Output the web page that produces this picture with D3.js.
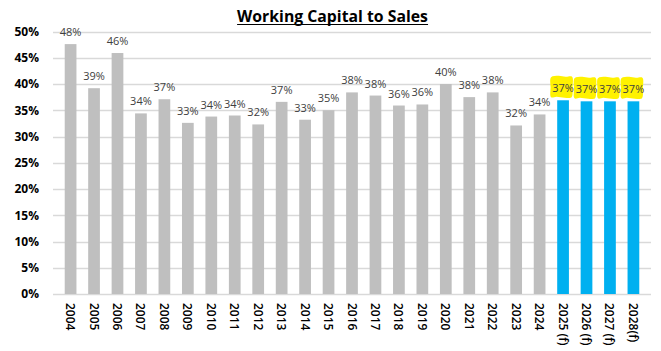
<!DOCTYPE html>
<html>
<head>
<meta charset="utf-8">
<script src="https://cdn.jsdelivr.net/npm/d3@7"></script>
<style>
  body { margin: 0; background: #fff; }
  svg { display: block; }
</style>
</head>
<body>
<div id="chart"></div>
<script>
// Data
const years = ["2004", "2005", "2006", "2007", "2008", "2009", "2010", "2011", "2012", "2013",
    "2014", "2015", "2016", "2017", "2018", "2019", "2020", "2021", "2022", "2023", "2024",
    "2025 (f)", "2026 (f)", "2027 (f)", "2028(f)"];
const ratios = [47.6, 39.2, 45.9, 34.4, 37.1, 32.6, 33.8, 34.0, 32.3, 36.6,
    33.2, 35.0, 38.4, 37.8, 35.9, 36.1, 40.0, 37.5, 38.4, 32.1, 34.2,
    36.9, 36.7, 36.7, 36.7];
const forecast = [false, false, false, false, false, false, false, false, false, false,
    false, false, false, false, false, false, false, false, false, false, false,
    true, true, true, true];
const yTicks = [0, 5, 10, 15, 20, 25, 30, 35, 40, 45, 50];

const width = 661, height = 351;
const margin = { top: 31.5, right: 10, bottom: 57, left: 53 };
const font = "'Open Sans', Lato, sans-serif";

const svg = d3.select("#chart").append("svg")
    .attr("width", width)
    .attr("height", height);

// Title, sized to span roughly 191px
const title = svg.append("text")
    .attr("x", 332.5)
    .attr("y", 22)
    .attr("text-anchor", "middle")
    .attr("font-family", font)
    .attr("font-weight", "bold")
    .attr("font-size", 16)
    .attr("fill", "#000")
    .text("Working Capital to Sales");
const w0 = title.node().getComputedTextLength();
title.attr("font-size", 16 * 191 / w0);
const tb = title.node().getBBox();
svg.append("line")
    .attr("x1", tb.x).attr("x2", tb.x + tb.width)
    .attr("y1", 24.5).attr("y2", 24.5)
    .attr("stroke", "#000").attr("stroke-width", 1.2);

// Scales
const x = d3.scaleBand()
    .domain(years)
    .range([margin.left, width - margin.right])
    .padding(0.5);
const y = d3.scaleLinear()
    .domain([0, 50])
    .range([height - margin.bottom, margin.top]);

// Gridlines
svg.append("g")
    .selectAll("line")
    .data(yTicks)
    .join("line")
    .attr("x1", margin.left)
    .attr("x2", width - margin.right)
    .attr("y1", d => Math.round(y(d)) + 0.5)
    .attr("y2", d => Math.round(y(d)) + 0.5)
    .attr("stroke", "#d9d9d9")
    .attr("stroke-width", 1.3);

// Y axis labels
const yAxis = svg.append("g")
    .attr("transform", `translate(${margin.left - 14},0)`)
    .call(d3.axisLeft(y).tickValues(yTicks).tickFormat(d => d + "%").tickSize(0).tickPadding(0));
yAxis.select(".domain").remove();
yAxis.selectAll("text")
    .attr("font-family", font)
    .attr("font-weight", "bold")
    .attr("font-size", 12)
    .attr("fill", "#000");

// Bars
svg.append("g")
    .selectAll("rect")
    .data(years)
    .join("rect")
    .attr("x", d => x(d))
    .attr("y", (d, i) => y(ratios[i]))
    .attr("width", x.bandwidth())
    .attr("height", (d, i) => y(0) - y(ratios[i]))
    .attr("fill", (d, i) => forecast[i] ? "#00b0f0" : "#bfbfbf");

// Highlight blobs behind forecast labels
const blob = d3.line().curve(d3.curveCatmullRomClosed);
svg.append("g")
    .selectAll("path")
    .data(years.filter((d, i) => forecast[i]))
    .join("path")
    .attr("d", d => {
        const i = years.indexOf(d);
        const cx = x(d) + x.bandwidth() / 2 - 1.5;
        const cy = y(ratios[i]) - 13;
        return blob([
            [cx - 10.5, cy - 10], [cx - 3, cy - 11.5], [cx + 4, cy - 10.5], [cx + 10.5, cy - 10.5],
            [cx + 11, cy], [cx + 10, cy + 10], [cx + 3, cy + 10.5], [cx - 5, cy + 9.5],
            [cx - 10.5, cy + 10], [cx - 11, cy]
        ]);
    })
    .attr("fill", "#fff200");

// Value labels
svg.append("g")
    .selectAll("text")
    .data(years)
    .join("text")
    .attr("x", d => x(d) + x.bandwidth() / 2)
    .attr("y", (d, i) => y(ratios[i]) - 8)
    .attr("text-anchor", "middle")
    .attr("font-family", font)
    .attr("font-size", 11)
    .attr("fill", "#404040")
    .text((d, i) => Math.round(ratios[i]) + "%");

// X axis labels (rotated)
svg.append("g")
    .selectAll("text")
    .data(years)
    .join("text")
    .attr("transform", d => `translate(${x(d) + x.bandwidth() / 2 - 4.5},303) rotate(90)`)
    .attr("font-family", font)
    .attr("font-weight", 600)
    .attr("font-size", 12)
    .attr("fill", "#000")
    .text(d => d);
</script>
</body>
</html>
